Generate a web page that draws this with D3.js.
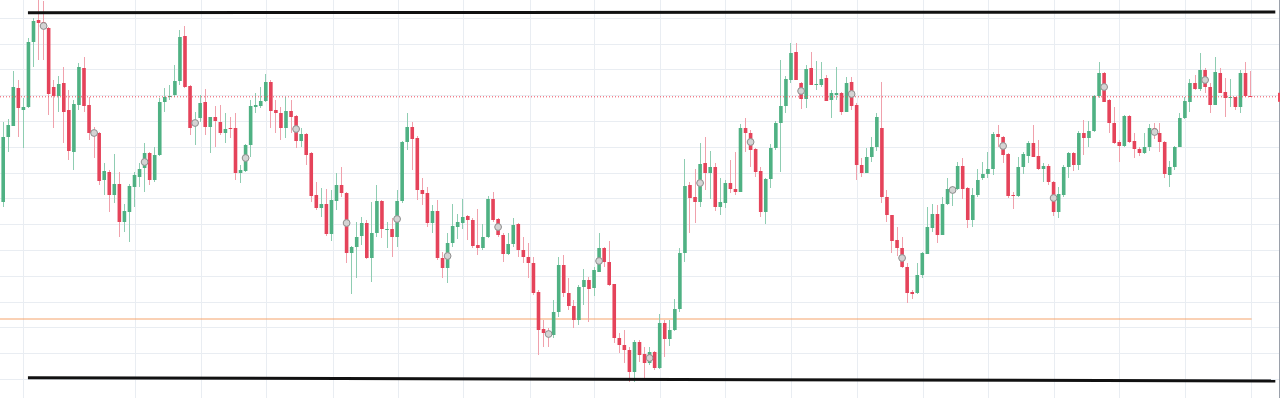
<!DOCTYPE html>
<html>
<head>
<meta charset="utf-8">
<script src="https://cdn.jsdelivr.net/npm/d3@7/dist/d3.min.js"></script>
<style>
html, body { margin: 0; padding: 0; background: #ffffff; overflow: hidden; }
</style>
</head>
<body>
<div id="container"></div>
<script>
// bar data (price points), one entry per bar
var opens = [298,363,374,412,390,393,458,480,478,472,413,404,417,390,348,395,432,395,370,367,
	320,328,305,316,278,288,313,323,332,347,320,345,398,403,405,419,464,414,374,382,
	398,373,383,378,367,372,372,327,329,355,393,394,399,418,390,387,372,389,384,359,
	366,347,305,292,296,266,299,315,307,247,253,264,277,242,267,299,270,271,263,299,
	358,373,362,310,307,277,289,242,232,257,273,277,284,280,255,252,263,301,281,265,
	246,256,276,250,243,237,208,171,168,165,188,235,207,194,180,213,220,212,228,252,
	238,216,162,155,150,128,158,146,137,148,132,177,161,170,191,247,315,303,298,337,
	327,333,293,297,317,311,308,372,367,351,329,288,321,352,377,394,420,448,417,401,
	432,415,415,422,400,405,407,388,418,395,335,327,343,353,372,303,285,260,252,233,
	208,207,225,246,272,286,265,296,308,311,334,312,280,305,322,326,331,366,363,346,
	305,304,333,344,357,344,331,334,318,288,305,333,347,335,367,362,369,404,427,400,
	377,358,354,384,359,351,347,353,372,367,358,325,333,353,382,398,417,411,430,413,
	395,427,408,402,403,393,427,404];
var highs = [378,381,429,420,402,462,482,500,499,473,420,424,433,410,400,437,443,403,373,368,
	337,330,346,328,296,316,328,337,357,348,353,402,412,415,435,470,474,415,388,405,
	411,383,394,395,387,383,387,335,356,400,407,413,426,420,400,393,403,400,385,372,
	367,348,318,312,311,310,327,333,308,254,278,283,280,298,315,300,278,282,310,359,
	387,378,364,322,313,295,300,248,267,296,286,301,285,282,291,276,304,308,282,267,
	267,282,277,263,257,243,210,180,172,200,243,245,222,200,215,231,223,233,267,253,
	259,216,167,170,153,160,160,153,153,149,186,180,180,201,252,341,318,331,357,363,
	349,337,322,320,340,348,376,382,370,352,333,322,356,379,440,424,457,457,418,435,
	448,439,438,425,410,433,408,423,423,397,342,352,363,387,418,310,285,273,263,237,
	210,237,248,293,296,295,303,322,314,338,342,313,312,331,338,348,368,375,364,347,
	308,343,348,359,375,360,337,336,319,313,335,348,348,369,380,379,405,438,428,401,
	393,360,385,385,367,353,367,376,377,377,359,339,354,387,403,421,425,447,432,417,
	443,432,422,421,403,430,438,429];
var lows = [293,348,374,363,352,392,433,440,440,385,372,388,357,340,330,390,388,360,342,315,
	305,288,297,263,268,258,293,313,308,315,318,344,388,400,403,415,412,365,355,378,
	365,347,353,365,357,362,320,317,328,343,387,392,398,372,367,360,362,367,352,353,
	335,298,290,283,264,259,290,303,237,206,222,255,241,218,263,262,252,243,253,297,
	350,330,300,295,273,267,240,222,217,253,261,271,260,252,245,250,262,278,263,238,
	245,253,243,237,222,205,145,153,153,162,183,203,190,172,175,195,178,204,228,233,
	214,157,147,137,118,118,138,120,135,130,131,143,154,169,188,238,267,277,293,310,
	301,289,285,292,307,305,308,348,333,323,283,276,312,350,328,387,417,420,391,392,
	415,410,413,399,382,400,385,388,390,320,323,327,338,349,297,278,247,244,232,197,
	201,206,222,246,268,257,265,295,294,310,301,272,273,303,320,322,325,353,337,302,
	291,303,326,337,343,330,318,315,284,282,303,322,329,330,345,353,368,402,398,367,
	356,338,353,357,342,344,346,349,361,348,322,313,330,353,381,388,410,409,407,387,
	395,407,383,393,390,387,403,403];
var closes = [363,375,413,392,393,458,479,477,473,406,404,416,388,349,396,433,394,367,366,319,
	329,305,316,278,289,314,325,331,347,320,345,398,403,404,419,463,413,372,379,397,
	373,383,379,367,371,371,327,330,355,394,395,399,418,389,387,372,389,383,359,366,
	345,304,292,296,266,300,315,307,247,253,263,277,242,267,299,271,271,263,299,358,
	373,361,310,306,277,289,242,232,257,274,278,283,280,254,252,263,301,280,265,246,
	256,275,250,243,237,207,170,167,165,188,235,207,194,180,213,220,211,230,252,238,
	215,162,155,150,128,158,145,137,148,132,177,161,170,191,247,314,302,298,336,327,
	333,293,298,317,311,308,372,367,350,328,288,321,352,377,394,421,447,420,401,431,
	415,416,421,399,407,407,388,417,394,335,327,343,353,383,303,285,259,252,233,207,
	206,225,247,273,286,265,296,311,311,334,311,280,305,320,326,331,366,363,345,304,
	304,333,346,357,343,331,334,318,288,306,333,347,335,367,362,369,404,427,398,377,
	357,354,384,358,351,347,353,372,367,358,326,333,353,382,399,417,411,430,413,395,
	428,407,402,403,393,427,404,403];

// grey indicator dots, every tenth bar
var markerBars = [8,18,28,38,48,58,68,78,88,98,108,118,128,138,148,158,168,178,188,198,208,218,228,238];
var markerVals = [474,367,338,377,342,371,277,281,244,273,166,239,142,317,358,409,406,242,310,354,302,413,368,420];

// horizontal grid levels and vertical grid (bar positions)
var gridPrices = [482.3,456.5,430.7,404.9,379.1,353.3,327.5,301.7,275.9,250.1,224.3,198.5,172.7,146.9,121.1];
var gridBars = [4.0,26.2,39.3,52.1,65.4,78.3,91.1,104.4,117.1,130.2,143.0,156.1,169.2,182.2,195.1,208.2,221.1,234.1,247.2];

// drawn lines: channel (bar, price) pairs, last price line, support level
var channelTop = [[5.0, 487.3], [252.0, 488.0]];
var channelBottom = [[5.0, 122.3], [252.0, 119.0]];
var lastPrice = 403.2;
var supportLevel = [[-1.0, 181.0], [247.3, 181.0]];

(function()
{
	var width = 1280, height = 398;
	var bars = opens.map(function(o, i)
	{
		return {i: i, open: o, high: highs[i], low: lows[i], close: closes[i]};
	});

	var svg = d3.select("#container").append("svg")
		.attr("width", width).attr("height", height)
		.style("display", "block");

	var x = d3.scaleLinear().domain([0, bars.length - 1]).range([2.7, 2.7 + 5.05 * (bars.length - 1)]);
	var y = d3.scaleLinear().domain([100, 500]).range([400, 0]);
	var bodyW = 3.6;

	var green = "#4fb183", red = "#e5435a";
	var greenWick = "#8fcdb2", redWick = "#f0a1ac";

	// grid
	svg.append("g").selectAll("line").data(gridPrices).enter().append("line")
		.attr("x1", 0).attr("x2", width)
		.attr("y1", function(d) { return Math.round(y(d)) + 0.5; })
		.attr("y2", function(d) { return Math.round(y(d)) + 0.5; })
		.attr("stroke", "#e9edf2").attr("stroke-width", 1);
	svg.append("g").selectAll("line").data(gridBars).enter().append("line")
		.attr("y1", 0).attr("y2", height)
		.attr("x1", function(d) { return Math.round(x(d)) + 0.5; })
		.attr("x2", function(d) { return Math.round(x(d)) + 0.5; })
		.attr("stroke", "#e9edf2").attr("stroke-width", 1);

	// support level (orange)
	var line = d3.line().x(function(d) { return x(d[0]); }).y(function(d) { return y(d[1]); });
	svg.append("path").attr("d", line(supportLevel))
		.attr("fill", "none").attr("stroke", "#f5a36a").attr("stroke-width", 1);

	// candles
	var candle = svg.append("g").selectAll("g").data(bars).enter().append("g");
	candle.append("line")
		.attr("x1", function(d) { return Math.round(x(d.i)) + 0.5; })
		.attr("x2", function(d) { return Math.round(x(d.i)) + 0.5; })
		.attr("y1", function(d) { return y(d.high); })
		.attr("y2", function(d) { return y(d.low); })
		.attr("stroke", function(d) { return d.close >= d.open ? greenWick : redWick; })
		.attr("stroke-width", 1);
	candle.append("rect")
		.attr("x", function(d) { return x(d.i) - bodyW / 2 + 0.5; })
		.attr("width", bodyW)
		.attr("y", function(d) { return y(Math.max(d.open, d.close)); })
		.attr("height", function(d) { return Math.max(1, Math.abs(y(d.open) - y(d.close))); })
		.attr("fill", function(d) { return d.close >= d.open ? green : red; });

	// last price line (red dotted)
	svg.append("line")
		.attr("x1", 0).attr("x2", width)
		.attr("y1", y(lastPrice)).attr("y2", y(lastPrice))
		.attr("stroke", "#ee4a5c").attr("stroke-width", 1)
		.attr("stroke-dasharray", "1,2");

	// indicator dots
	svg.append("g").selectAll("circle").data(markerBars).enter().append("circle")
		.attr("cx", function(d) { return x(d) + 0.5; })
		.attr("cy", function(d, k) { return y(markerVals[k]); })
		.attr("r", 3.4)
		.attr("fill", "#d4d4d4").attr("stroke", "#8e8e8e").attr("stroke-width", 1);

	// channel lines
	[channelTop, channelBottom].forEach(function(pts)
	{
		svg.append("path").attr("d", line(pts))
			.attr("fill", "none").attr("stroke", "#111111").attr("stroke-width", 3);
	});

	// right price axis edge and last price tag
	svg.append("line").attr("x1", 1279.5).attr("x2", 1279.5).attr("y1", 0).attr("y2", height)
		.attr("stroke", "#9aa0aa").attr("stroke-width", 1);
	svg.append("rect").attr("x", 1278).attr("width", 2)
		.attr("y", y(lastPrice) - 4).attr("height", 9).attr("fill", "#ee4a5c");
})();
</script>
</body>
</html>
